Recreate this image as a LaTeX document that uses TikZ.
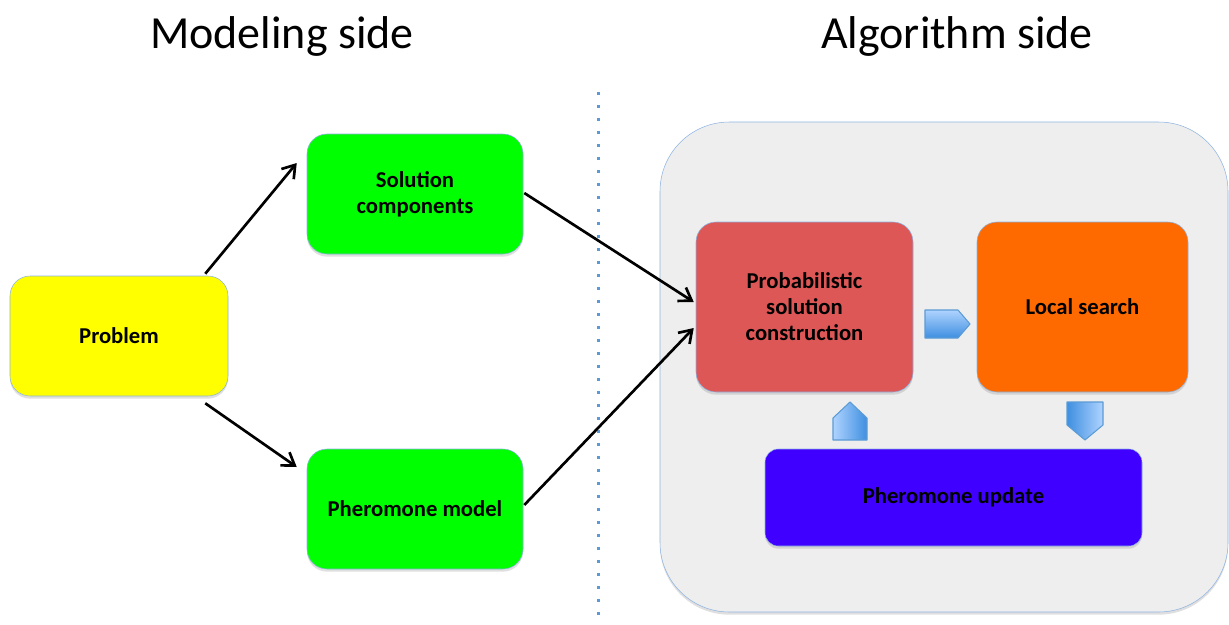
\documentclass[tikz,border=0pt]{standalone}
\usepackage{fontspec}
\setmainfont{Carlito}
\usepackage{tikz}
\usetikzlibrary{arrows.meta,positioning,shadows,calc}
\definecolor{boxedge}{HTML}{8DB3E2}
\definecolor{probyellow}{HTML}{FFFF00}
\definecolor{compgreen}{HTML}{00FF00}
\definecolor{constred}{HTML}{DE5757}
\definecolor{lsorange}{HTML}{FF6A00}
\definecolor{updblue}{HTML}{4000FF}
\definecolor{algogray}{HTML}{EEEEEE}
\definecolor{flowlight}{HTML}{AFD3FF}
\definecolor{flowdark}{HTML}{3F8FE0}
\definecolor{flowedge}{HTML}{5B9BD5}

\begin{document}
\begin{tikzpicture}[x=0.75pt,y=-0.75pt, box/.style={draw=boxedge,rounded corners=15pt,align=center,font=\fontsize{17}{19.5}\selectfont\bfseries,drop shadow={shadow xshift=0pt,shadow yshift=-2pt,opacity=0.25}}, sidetitle/.style={font=\fontsize{34.5}{40}\selectfont}, arr/.style={-{Straight Barb[length=9pt,width=12pt]},line width=2pt}, flow/.style={draw=flowedge,line width=0.8pt,line join=round}]
\useasboundingbox (0,0) rectangle (1229,625);
\node (modtitle) at (282,36) [sidetitle] {Modeling side};
\node (algtitle) at (957,36) [sidetitle] {Algorithm side};
\coordinate (septop) at (598,92); \coordinate (sepbot) at (598,625);
\draw[flowedge,line width=2.25pt,dash pattern=on 2.25pt off 7.5pt] (septop)--(sepbot);
\node (algobox) at (944,367) [box,minimum width=426pt,minimum height=367.5pt,rounded corners=52pt,fill=algogray] {};
\node (problem) at (119,336) [box,minimum width=163.5pt,minimum height=90pt,fill=probyellow,text depth=1pt] {Problem};
\node (solcomp) at (415,194) [box,minimum width=162pt,minimum height=90pt,fill=compgreen] {Solution\\components};
\node (phermodel) at (415,509) [box,minimum width=162pt,minimum height=90pt,fill=compgreen] {Pheromone model};
\node (construct) at (804.5,307) [box,minimum width=162.75pt,minimum height=127.5pt,fill=constred] {Probabilistic\\solution\\construction};
\node (localsearch) at (1082.5,307) [box,minimum width=158.25pt,minimum height=127.5pt,fill=lsorange] {Local search};
\node (update) at (953.5,497.5) [box,minimum width=282.75pt,minimum height=72.75pt,rounded corners=10pt,fill=updblue] {Pheromone update};
\draw[arr] ($(problem.north east)+(-23,-2)$)--($(solcomp.west)+(-10,-31)$);\draw[arr] ($(problem.south east)+(-23,7)$)--($(phermodel.west)+(-10,-42)$);
\draw[arr] ($(solcomp.east)+(1,-1)$)--($(construct.west)+(-2,-5)$);\draw[arr] ($(phermodel.east)+(1,-4)$)--($(construct.west)+(-2,21)$);
% block arrows of the loop
\draw[flow,top color=flowlight,bottom color=flowdark] (925,310)--(958,310)--(970,324)--(958,338)--(925,338)--cycle;
\draw[flow,left color=flowlight,right color=flowdark] (833,440)--(833,418)--(850,402)--(867,418)--(867,440)--cycle;
\draw[flow,left color=flowdark,right color=flowlight] (1067,402)--(1103,402)--(1103,425)--(1085,440)--(1067,425)--cycle;
\end{tikzpicture}
\end{document}
